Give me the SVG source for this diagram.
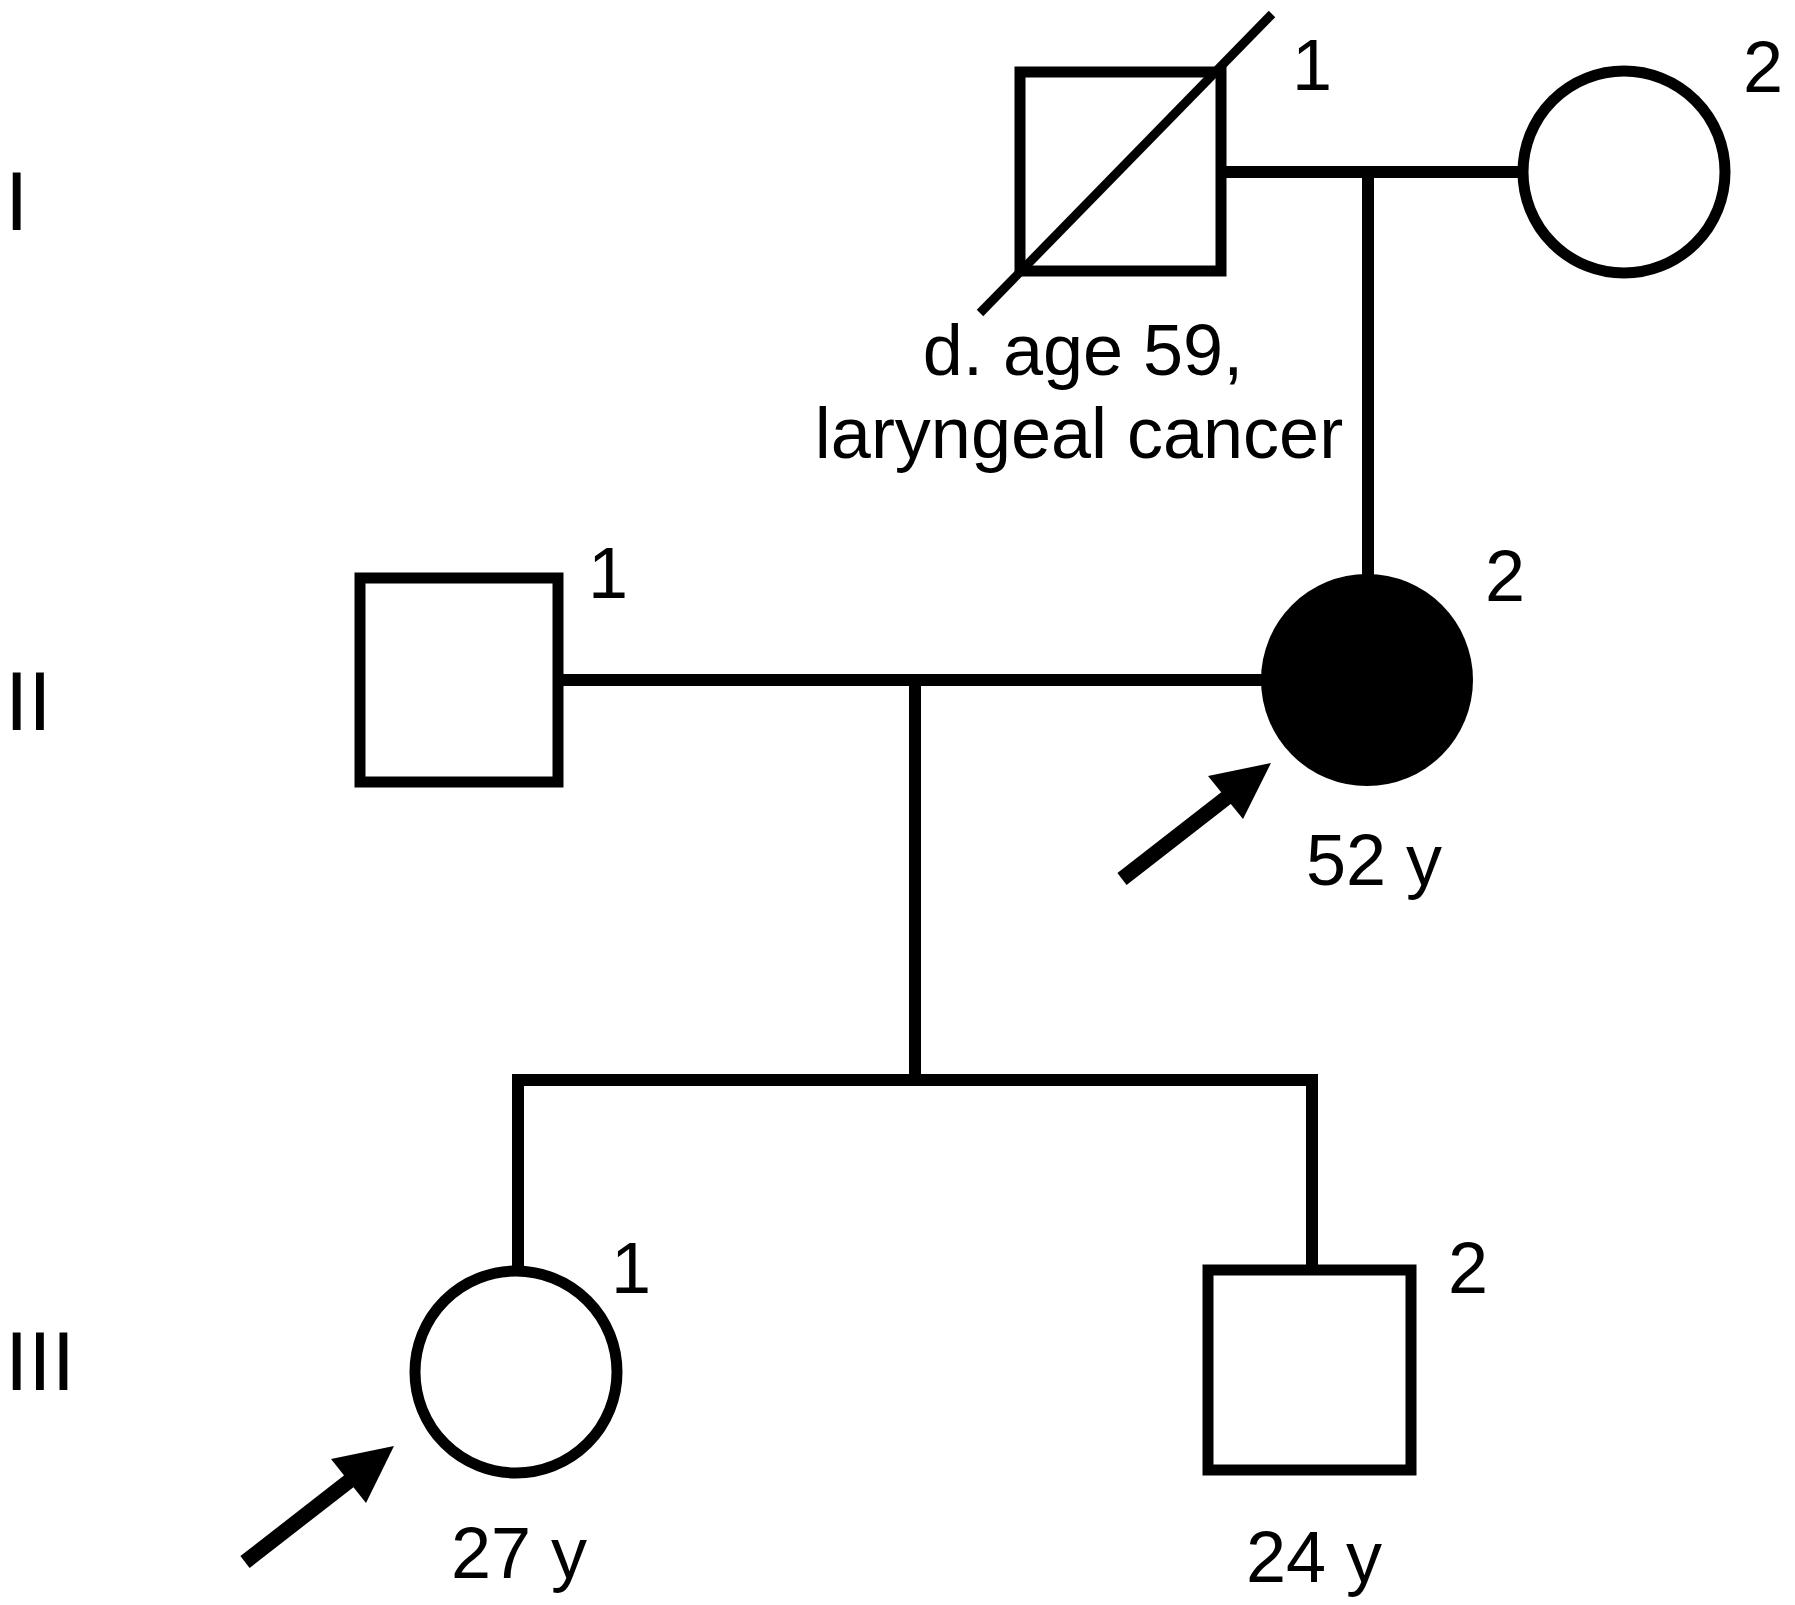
<svg xmlns="http://www.w3.org/2000/svg" width="1795" height="1605" viewBox="0 0 1795 1605">
<style>
.sym{fill:#fff;stroke:#000;stroke-width:11}
.aff{fill:#000;stroke:none}
.ln{stroke:#000;stroke-width:12;fill:none}
.t{font-family:"Liberation Sans",Arial,sans-serif;font-size:72px;fill:#000}
.rn{font-family:"Liberation Sans",Arial,sans-serif;font-size:84px;fill:#000}
.arr{stroke:#000;stroke-width:15}
</style>
<rect width="1795" height="1605" fill="#fff"/>
<g id="generations">
<text class="rn" x="5" y="230">I</text>
<text class="rn" x="5" y="730">II</text>
<text class="rn" x="5" y="1390">III</text>
</g>
<g id="connectors">
<line class="ln" x1="1226" y1="172" x2="1518" y2="172"/>
<line class="ln" x1="1368" y1="172" x2="1368" y2="576"/>
<line class="ln" x1="563" y1="680" x2="1262" y2="680"/>
<line class="ln" x1="915" y1="680" x2="915" y2="1080"/>
<line class="ln" x1="512" y1="1080" x2="1318" y2="1080"/>
<line class="ln" x1="518" y1="1074" x2="518" y2="1270"/>
<line class="ln" x1="1312" y1="1074" x2="1312" y2="1268"/>
</g>
<g id="I-1">
<rect class="sym" x="1020" y="72" width="201" height="199"/>
<line x1="980" y1="313" x2="1272" y2="14" stroke="#000" stroke-width="9"/>
<text class="t" x="1292" y="90">1</text>
<text class="t" x="1083" y="375" text-anchor="middle">d. age 59,</text>
<text class="t" x="1079" y="458" text-anchor="middle">laryngeal cancer</text>
</g>
<g id="I-2">
<circle class="sym" cx="1624" cy="172" r="101"/>
<text class="t" x="1743" y="92">2</text>
</g>
<g id="II-1">
<rect class="sym" x="360" y="578" width="198" height="204"/>
<text class="t" x="588" y="598">1</text>
</g>
<g id="II-2">
<circle class="aff" cx="1367" cy="680" r="106"/>
<text class="t" x="1485" y="601">2</text>
<line class="arr" x1="1122" y1="879" x2="1230" y2="795"/>
<polygon points="1271,763 1208,776 1243,819" fill="#000"/>
<text class="t" x="1306" y="885">52 y</text>
</g>
<g id="III-1">
<circle class="sym" cx="516" cy="1372" r="101"/>
<text class="t" x="611" y="1293">1</text>
<line class="arr" x1="245" y1="1562" x2="353" y2="1478"/>
<polygon points="394,1446 331,1459 366,1503" fill="#000"/>
<text class="t" x="451" y="1578">27 y</text>
</g>
<g id="III-2">
<rect class="sym" x="1208" y="1270" width="203" height="200"/>
<text class="t" x="1448" y="1293">2</text>
<text class="t" x="1246" y="1582">24 y</text>
</g>
</svg>
